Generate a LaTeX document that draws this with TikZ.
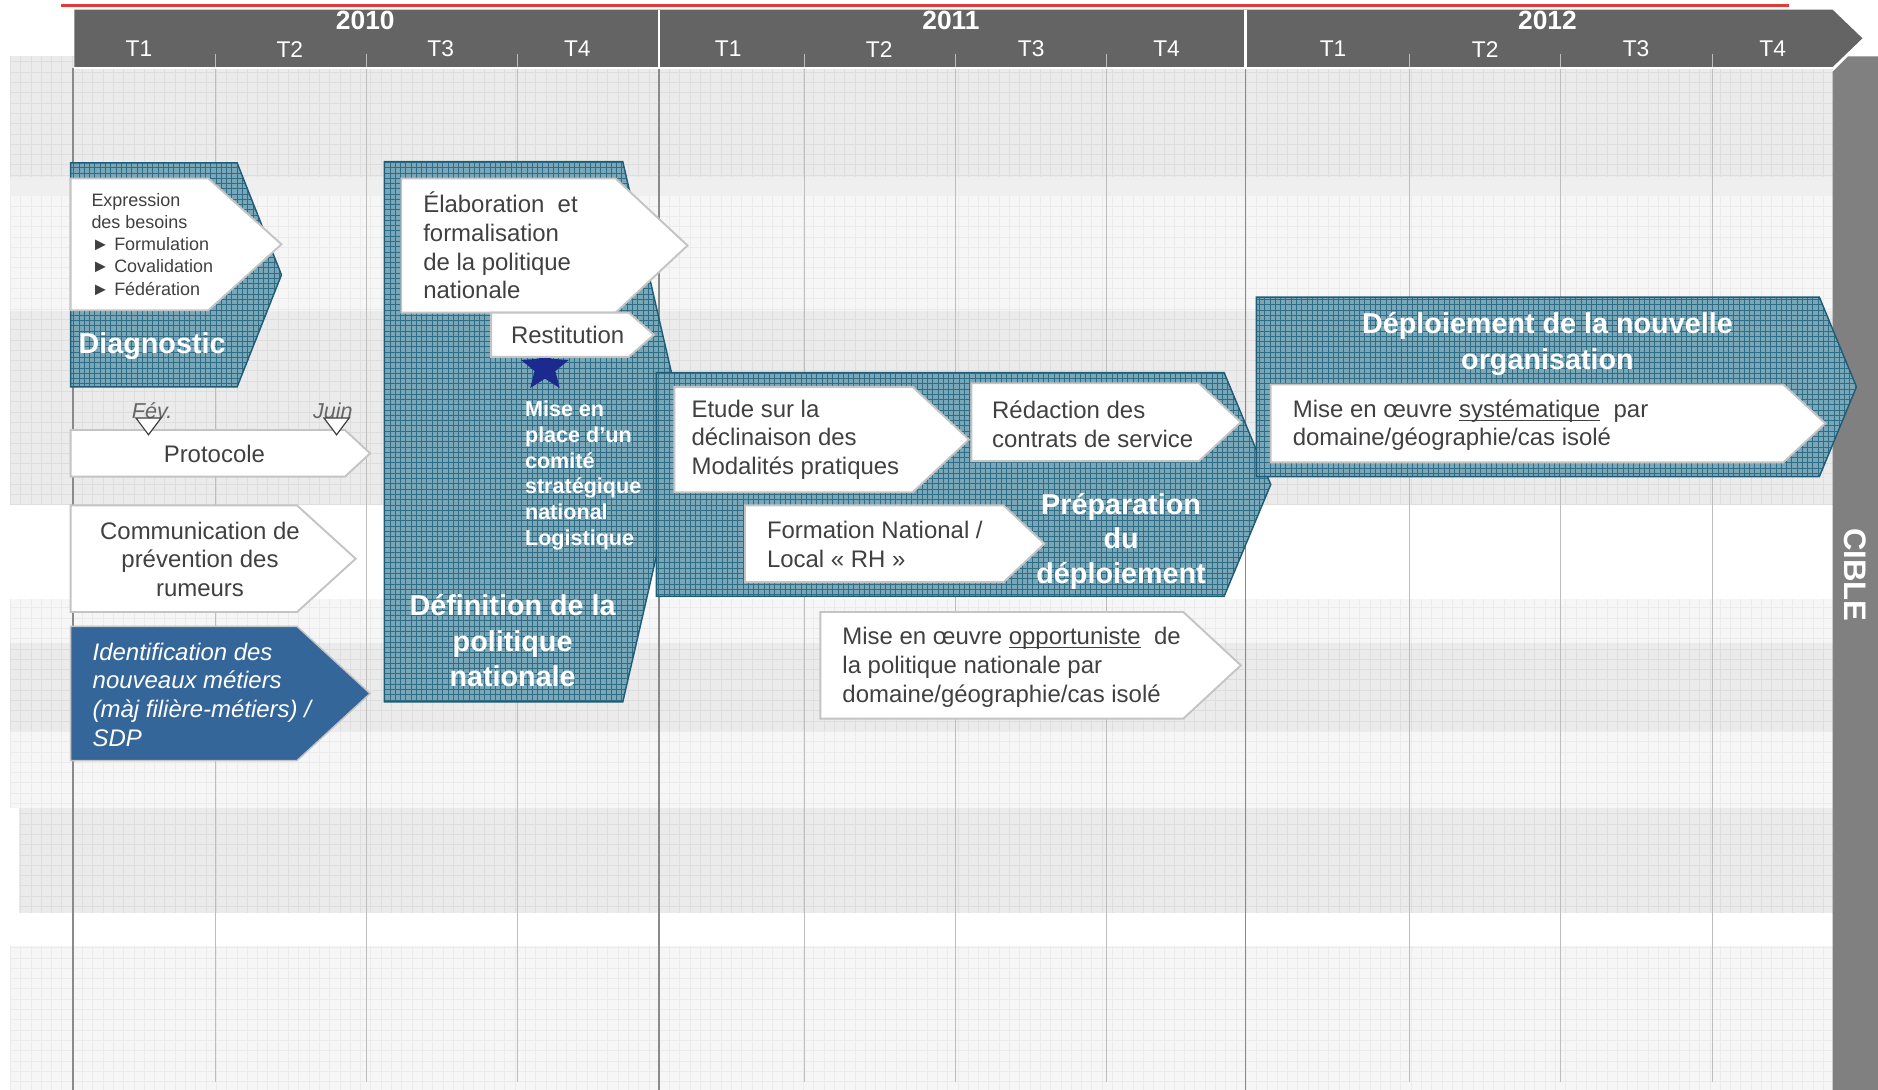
\documentclass[tikz,border=0pt]{standalone}
\usepackage{fontspec}
\setmainfont{Liberation Sans}
\usetikzlibrary{patterns,shapes.geometric}

% fine cross-hatch used inside the phase shapes
\pgfdeclarepatternformonly{finegrid}{\pgfqpoint{-0.5pt}{-0.5pt}}{\pgfqpoint{2.7pt}{2.7pt}}{\pgfqpoint{2.2pt}{2.2pt}}{%
  \pgfsetlinewidth{0.35pt}%
  \pgfpathmoveto{\pgfqpoint{0pt}{0pt}}\pgfpathlineto{\pgfqpoint{0pt}{2.3pt}}%
  \pgfpathmoveto{\pgfqpoint{0pt}{0pt}}\pgfpathlineto{\pgfqpoint{2.3pt}{0pt}}%
  \pgfusepath{stroke}}

\definecolor{headgrey}{HTML}{646464}
\definecolor{ciblegrey}{HTML}{808080}
\definecolor{bandgrey}{HTML}{EBEBEB}
\definecolor{bandmid}{HTML}{EFEFEF}
\definecolor{bandlight}{HTML}{F6F6F6}
\definecolor{gridgrey}{HTML}{DEDEDE}
\definecolor{gridlight}{HTML}{EBEBEB}
\definecolor{minorline}{HTML}{BDBDBD}
\definecolor{majorline}{HTML}{8A8A8A}
\definecolor{hatchbg}{HTML}{7AA7B8}
\definecolor{hatchline}{HTML}{2F6D87}
\definecolor{hatchedge}{HTML}{1E5C78}
\definecolor{boxtext}{HTML}{404040}
\definecolor{boxedge}{HTML}{C4C4C4}
\definecolor{metierblue}{HTML}{35669A}
\definecolor{starblue}{HTML}{1B2A8C}
\definecolor{redline}{HTML}{E53935}

% arrow-shaped box: [style]{x left}{y top}{x shoulder}{y bottom}{x tip}
\newcommand\arrowbox[6][]{%
  \draw[#1] (#2,#3) -- (#4,#3) -- (#6,{(#3+#5)/2}) -- (#4,#5) -- (#2,#5) -- cycle;}
% underline sitting just under the baseline
\newcommand\baseul[1]{\underline{\smash{#1}}}

\begin{document}
\begin{tikzpicture}[x=0.5pt,y=-0.5pt,
  hatched/.style={preaction={fill=hatchbg}, pattern=finegrid, pattern color=hatchline,
                  draw=hatchedge, line width=0.6pt},
  whitebox/.style={fill=white, draw=boxedge, line width=0.8pt},
  bluebox/.style={fill=metierblue, draw=boxedge, line width=0.6pt},
  boxtxt/.style={font=\fontsize{10}{12}\selectfont, text=boxtext, inner sep=0pt},
  smalltxt/.style={font=\fontsize{7.5}{9.25}\selectfont, text=boxtext, inner sep=0pt, align=left},
  titletxt/.style={font=\fontsize{12}{14.7}\selectfont\bfseries, text=white, inner sep=0pt, align=center},
  yeartxt/.style={font=\fontsize{11}{13}\selectfont\bfseries, text=white, inner sep=0pt},
  qtxt/.style={font=\fontsize{9.5}{11}\selectfont, text=white, inner sep=0pt},
  monthtxt/.style={font=\fontsize{9}{11}\selectfont\itshape, text=boxtext!80, inner sep=0pt},
  marker/.style={fill=white, draw=boxtext, line width=0.5pt}]

\useasboundingbox (0,0) rectangle (1568,910);

% ---------- background bands ----------
\fill[bandgrey]  (8,47)   rectangle (1530,148);
\fill[bandmid]   (8,148)  rectangle (1530,164);
\fill[bandlight] (8,164)  rectangle (1530,260);
\fill[bandgrey]  (8,260)  rectangle (1530,422);
\fill[bandlight] (8,500)  rectangle (1530,537);
\fill[bandgrey]  (8,537)  rectangle (1530,610);
\fill[bandlight] (8,610)  rectangle (1530,675);
\fill[bandgrey]  (16,675) rectangle (1538,762);
\fill[bandlight] (8,790)  rectangle (1530,910);

% fine grid on the bands
\begin{scope}[line width=0.3pt]
  \draw[gridgrey,  step=4.3pt] (8,148)  grid (1530,47);
  \draw[gridlight, step=4.3pt] (8,260)  grid (1530,164);
  \draw[gridgrey,  step=4.3pt] (8,422)  grid (1530,260);
  \draw[gridlight, step=4.3pt] (8,537)  grid (1530,500);
  \draw[gridgrey,  step=4.3pt] (8,610)  grid (1530,537);
  \draw[gridlight, step=4.3pt] (8,675)  grid (1530,610);
  \draw[gridgrey,  step=4.3pt] (16,762) grid (1538,675);
  \draw[gridlight, step=4.3pt] (8,910)  grid (1530,790);
\end{scope}

% ---------- quarter and year lines ----------
\foreach \qx in {180,306,432,672,798,924,1177,1303,1430}
  \draw[minorline, line width=0.5pt] (\qx,57) -- (\qx,903);
\foreach \yx in {61,550,1040}
  \draw[majorline, line width=0.7pt] (\yx,57) -- (\yx,910);

% ---------- time header ----------
\draw[redline, line width=1.1pt] (51,4.5) -- (1494,4.5);
\fill[headgrey] (62,8) -- (1530,8) -- (1555,32) -- (1530,56) -- (62,56) -- cycle;
\draw[white, line width=1pt] (550,8) -- (550,56) (1040,8) -- (1040,56);
\draw[white, line width=1pt] (62,57) -- (1530,57);
\foreach \qx in {180,306,432,672,798,924,1177,1303,1430}
  \draw[minorline, line width=0.5pt] (\qx,45) -- (\qx,56);

\node[yeartxt] (y2010) at (305,17) {2010};
\node[yeartxt] (y2011) at (794,17) {2011};
\node[yeartxt] (y2012) at (1292,17) {2012};
\foreach \qx/\ql [count=\qi] in {116/T1,242/T2,368/T3,482/T4,608/T1,734/T2,861/T3,974/T4,1113/T1,1240/T2,1366/T3,1480/T4}
  \node[qtxt] (q\qi) at (\qx,41) {\ql};

% ---------- target bar ----------
\fill[ciblegrey] (1530,60) -- (1543,47) -- (1568,47) -- (1568,910) -- (1530,910) -- cycle;
\node[font=\fontsize{13}{15}\selectfont\bfseries, text=white, rotate=-90, inner sep=0pt] (cible) at (1549,480) {CIBLE};

% ---------- Diagnostic ----------
\arrowbox[hatched]{59}{136}{198}{323}{235}
\arrowbox[whitebox]{59}{149}{174}{259}{235}
\node[smalltxt, anchor=west] (besoins) at (76,204)
  {Expression\\des besoins\\► Formulation\\► Covalidation\\► Fédération};
\node[titletxt] (diag) at (127,289) {Diagnostic};

% ---------- Protocole ----------
\arrowbox[whitebox]{59}{359}{288}{398}{309}
\node[boxtxt] (proto) at (179,379) {Protocole};
\node[monthtxt] (fev) at (127,343) {Fév.};
\node[monthtxt] (juin) at (278,343) {Juin};
\draw[marker] (113.5,349) -- (134.5,349) -- (124,363) -- cycle;
\draw[marker] (270.5,349) -- (291.5,349) -- (281,363) -- cycle;

% ---------- Communication ----------
\arrowbox[whitebox]{59}{422}{248}{511}{297}
\node[boxtxt, align=center] (comm) at (167,467) {Communication de\\prévention des\\rumeurs};

% ---------- Identification ----------
\arrowbox[bluebox]{59}{523}{248}{635}{309}
\node[boxtxt, text=white, font=\fontsize{10}{12}\selectfont\itshape, align=left, anchor=west] (metiers) at (77,580)
  {Identification des\\nouveaux métiers\\(màj filière-métiers) /\\SDP};

% ---------- Définition de la politique nationale ----------
\arrowbox[hatched]{321}{135}{520}{586}{572}
\arrowbox[whitebox]{335}{149}{514}{261}{574}
\node[boxtxt, align=left, anchor=west] (elab) at (353,205)
  {Élaboration\ \ et\\formalisation\\de la politique\\nationale};
\node[star, star points=5, star point ratio=2.3, fill=starblue, inner sep=0pt, minimum size=21pt] (comite) at (455,307) {};
\arrowbox[whitebox]{410}{261}{525}{298}{546}
\node[boxtxt] (restit) at (474,280) {Restitution};
\node[font=\fontsize{9}{10.7}\selectfont\bfseries, text=white, inner sep=0pt, align=left, anchor=west] (miseplace) at (438,397)
  {Mise en\\place d’un\\comité\\stratégique\\national\\Logistique};
\node[titletxt] (defpol) at (428,535) {Définition de la\\politique\\nationale};

% ---------- Préparation du déploiement ----------
\arrowbox[hatched, fill opacity=0.82]{548}{311}{1022}{498}{1061}
\arrowbox[whitebox]{563}{323}{762}{411}{809}
\node[boxtxt, align=left, anchor=west] (etude) at (577,367)
  {Etude sur la\\déclinaison des\\Modalités pratiques};
\arrowbox[whitebox]{811}{320}{1001}{385}{1036}
\node[boxtxt, align=left, anchor=west] (redac) at (828,354)
  {Rédaction des\\contrats de service};
\arrowbox[whitebox]{622}{422}{838}{486}{872}
\node[boxtxt, align=left, anchor=west] (forma) at (640,454.5)
  {Formation National /\\Local « RH »};
\node[titletxt, font=\fontsize{12}{14.5}\selectfont\bfseries] (prepa) at (936,452) {Préparation\\du\\déploiement};

% ---------- Mise en œuvre opportuniste ----------
\arrowbox[whitebox]{685}{511}{988}{600}{1036}
\node[boxtxt, align=left, anchor=west] (opport) at (703,557)
  {Mise en œuvre \baseul{opportuniste}\ \ de\\la politique nationale par\\domaine/géographie/cas isolé};

% ---------- Déploiement de la nouvelle organisation ----------
\arrowbox[hatched, fill opacity=0.85]{1049}{248}{1519}{398}{1550}
\node[titletxt, font=\fontsize{12}{15}\selectfont\bfseries] (deploi) at (1292,287) {Déploiement de la nouvelle\\organisation};
\arrowbox[whitebox]{1061}{321}{1489}{386}{1524}
\node[boxtxt, align=left, anchor=west] (syst) at (1079,355)
  {Mise en œuvre \baseul{systématique}\ \ par\\domaine/géographie/cas isolé};

\end{tikzpicture}
\end{document}
